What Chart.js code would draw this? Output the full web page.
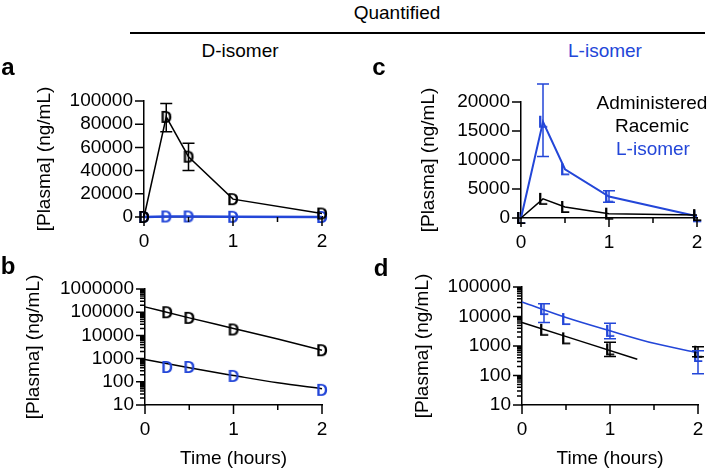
<!DOCTYPE html>
<html>
<head>
<meta charset="utf-8">
<script src="https://cdn.jsdelivr.net/npm/chart.js@4.4.0/dist/chart.umd.min.js"></script>
<style>
  body { margin: 0; background: #fff; }
  #fig { position: relative; width: 710px; height: 471px; overflow: hidden;
         font-family: "Liberation Sans", Arial, sans-serif; color: #000; }
  #fig canvas { position: absolute; }
  .txt { position: absolute; transform: translate(-50%, -50%); font-size: 19px; white-space: nowrap; }
  .tag { position: absolute; transform: translate(-50%, -50%); font-size: 24px; font-weight: bold; }
  .blue { color: #2346d8; }
  #rule { position: absolute; left: 130px; width: 575px; top: 32px; height: 2px; background: #000; }
</style>
</head>
<body>
<div id="fig">
  <canvas id="chartA" width="345" height="170" style="left:0;top:80px"></canvas>
  <canvas id="chartB" width="345" height="216" style="left:0;top:255px"></canvas>
  <canvas id="chartC" width="350" height="170" style="left:360px;top:80px"></canvas>
  <canvas id="chartD" width="350" height="216" style="left:360px;top:255px"></canvas>

  <div class="txt" style="left:397px;top:13px">Quantified</div>
  <div id="rule"></div>
  <div class="txt" style="left:240px;top:51px">D-isomer</div>
  <div class="txt blue" style="left:605px;top:51px">L-isomer</div>

  <div class="tag" style="left:8px;top:67px">a</div>
  <div class="tag" style="left:8px;top:266px">b</div>
  <div class="tag" style="left:379px;top:67px">c</div>
  <div class="tag" style="left:381px;top:268px">d</div>

  <div class="txt" style="left:652px;top:103px">Administered</div>
  <div class="txt" style="left:652px;top:126px">Racemic</div>
  <div class="txt blue" style="left:653px;top:149px">L-isomer</div>
</div>
<script>
const BLACK = '#000000';
const BLUE = '#2346d8';

// sampling times (hours)
const times = [0, 0.25, 0.5, 1, 2];
const logTimes = [0.25, 0.5, 1, 2];
const timeTicks = [0, 1, 2];
const timeMinor = [0.5, 1.5];

// a: D-isomer quantified, linear axis
const aRacemic = [0, 86300, 52000, 15400, 3000];
const aRacemicLo = [null, 73400, 40000, null, null];
const aRacemicHi = [null, 97800, 63500, null, null];
const aLIsomer = [0, 435, 435, 180, 45];
const aTicks = [0, 20000, 40000, 60000, 80000, 100000];

// b: D-isomer quantified, log axis + fits
const bRacemic = [100000, 57000, 18000, 2300];
const bLIsomer = [435, 435, 180, 45];
const bFitTimes = [0, 0.5, 1, 1.5, 2];
const bFitRacemic = [170000, 57000, 20000, 6950, 2280];
const bFitLIsomer = [915, 400, 187, 90, 50];
const bTicks = [10, 100, 1000, 10000, 100000, 1000000];

// c: L-isomer quantified, linear axis
const cRacemic = [0, 3300, 1900, 750, 500];
const cLIsomer = [0, 16600, 8400, 3700, 300];
const cLIsomerLo = [null, 10600, null, 2700, null];
const cLIsomerHi = [null, 23100, null, 4700, null];
const cTicks = [0, 5000, 10000, 15000, 20000];

// d: L-isomer quantified, log axis + fits
const dRacemic = [3540, 1820, 770, 640];
const dRacemicLo = [null, null, 440, 430];
const dRacemicHi = [null, null, 1350, 950];
const dLIsomer = [17800, 8200, 3260, 460];
const dLIsomerLo = [6300, null, 1750, 115];
const dLIsomerHi = [26900, null, 5900, 690];
const dFitTimes = [0, 0.5, 1, 1.5, 2];
const dFitLIsomer = [31000, 9250, 3270, 1230, 590];
const dFitRacemicTimes = [0, 1.31];
const dFitRacemic = [6270, 355];
const dTicks = [10, 100, 1000, 10000, 100000];

const FONT = '"Liberation Sans", Arial, sans-serif';

function pts(xs, ys) {
    return xs.map((x, i) => ({ x: x, y: ys[i] }));
}

// letter used as the point marker (D or L)
function letterMarker(ch, color) {
    const c = document.createElement('canvas');
    c.width = 18;
    c.height = 18;
    const g = c.getContext('2d');
    g.font = 'bold 16px ' + FONT;
    g.fillStyle = color;
    g.textAlign = 'center';
    g.textBaseline = 'alphabetic';
    g.fillText(ch, 9, 9 + 5.7);
    return c;
}

function logMinor(ticks) {
    const out = [];
    ticks.slice(0, -1).forEach(d => {
        for (let k = 2; k < 10; k++) out.push(d * k);
    });
    return out;
}

// Prism-style tick marks drawn outside the axes
const axisTicks = {
    id: 'axisTicks',
    afterDraw(chart, args, opts) {
        const ctx = chart.ctx;
        const xs = chart.scales.x, ys = chart.scales.y;
        const area = chart.chartArea;
        ctx.save();
        ctx.strokeStyle = '#000';
        ctx.lineWidth = 1.5;
        ctx.beginPath();
        const xMark = (v, len) => {
            const px = xs.getPixelForValue(v);
            ctx.moveTo(px, area.bottom);
            ctx.lineTo(px, area.bottom + len);
        };
        const yMark = (v, len) => {
            const py = ys.getPixelForValue(v);
            ctx.moveTo(area.left, py);
            ctx.lineTo(area.left - len, py);
        };
        xs.ticks.forEach(t => xMark(t.value, 9));
        (opts.xMinor || []).forEach(v => xMark(v, 5));
        ys.ticks.forEach(t => yMark(t.value, 9));
        (opts.yMinor || []).forEach(v => yMark(v, 5));
        ctx.stroke();
        ctx.restore();
    }
};

// vertical error bars with caps
const errorBars = {
    id: 'errorBars',
    afterDatasetsDraw(chart) {
        const ctx = chart.ctx;
        const ys = chart.scales.y;
        chart.data.datasets.forEach((ds, i) => {
            if (!ds.errLo) return;
            const meta = chart.getDatasetMeta(i);
            ctx.save();
            ctx.strokeStyle = ds.borderColor;
            ctx.lineWidth = 1.5;
            ctx.beginPath();
            ds.errLo.forEach((lo, j) => {
                if (lo == null) return;
                const x = meta.data[j].x;
                const y1 = ys.getPixelForValue(lo);
                const y2 = ys.getPixelForValue(ds.errHi[j]);
                ctx.moveTo(x, y1); ctx.lineTo(x, y2);
                ctx.moveTo(x - 6, y1); ctx.lineTo(x + 6, y1);
                ctx.moveTo(x - 6, y2); ctx.lineTo(x + 6, y2);
            });
            ctx.stroke();
            ctx.restore();
        });
    }
};

function series(xs, ys, color, letter, extra) {
    return Object.assign({
        data: pts(xs, ys),
        borderColor: color,
        backgroundColor: color,
        pointStyle: letterMarker(letter, color),
        pointRadius: 8,
        borderWidth: 1.5,
        clip: false
    }, extra || {});
}

function fit(xs, ys, color) {
    return {
        data: pts(xs, ys),
        borderColor: color,
        borderWidth: 1.5,
        pointRadius: 0,
        cubicInterpolationMode: 'monotone',
        clip: false
    };
}

function makePanel(id, p) {
    const tickFont = { family: FONT, size: 19 };
    return new Chart(document.getElementById(id), {
        type: 'line',
        data: { datasets: p.datasets },
        options: {
            responsive: false,
            animation: false,
            events: [],
            layout: { padding: { top: p.top, right: p.right, bottom: 0, left: 0 } },
            plugins: {
                legend: { display: false },
                tooltip: { enabled: false },
                axisTicks: { xMinor: timeMinor, yMinor: p.yMinor || [] }
            },
            scales: {
                x: {
                    type: 'linear',
                    min: 0,
                    max: 2,
                    afterBuildTicks: s => { s.ticks = timeTicks.map(v => ({ value: v })); },
                    afterFit: s => { s.height = p.xHeight; },
                    grid: { display: false, drawTicks: true, tickLength: 9 },
                    border: { display: true, color: '#000', width: 1.5 },
                    ticks: { color: '#000', font: tickFont, padding: 4, autoSkip: false, maxRotation: 0 },
                    title: {
                        display: !!p.xTitle,
                        text: 'Time (hours)',
                        color: '#000',
                        font: tickFont,
                        padding: { top: 0, bottom: 1 }
                    }
                },
                y: {
                    type: p.yType,
                    min: p.yTicks[0],
                    max: p.yTicks[p.yTicks.length - 1],
                    afterBuildTicks: s => { s.ticks = p.yTicks.map(v => ({ value: v })); },
                    afterFit: s => { s.width = p.left; },
                    grid: { display: false, drawTicks: true, tickLength: 9 },
                    border: { display: true, color: '#000', width: 1.5 },
                    ticks: { color: '#000', font: tickFont, padding: 2, autoSkip: false, callback: v => String(v) },
                    title: {
                        display: true,
                        text: '[Plasma] (ng/mL)',
                        color: '#000',
                        font: tickFont,
                        padding: { top: p.yTitlePad, bottom: 0 }
                    }
                }
            }
        },
        plugins: [axisTicks, errorBars]
    });
}

makePanel('chartA', {
    left: 144, right: 23, top: 21, xHeight: 33, yTitlePad: 33.6,
    yType: 'linear', yTicks: aTicks,
    datasets: [
        series(times, aRacemic, BLACK, 'D', { errLo: aRacemicLo, errHi: aRacemicHi }),
        series(times, aLIsomer, BLUE, 'D', { borderWidth: 2.5 })
    ]
});

makePanel('chartB', {
    left: 145, right: 23, top: 34, xHeight: 66, yTitlePad: 22.6, xTitle: true,
    yType: 'logarithmic', yTicks: bTicks, yMinor: logMinor(bTicks),
    datasets: [
        series(logTimes, bRacemic, BLACK, 'D', { showLine: false }),
        series(logTimes, bLIsomer, BLUE, 'D', { showLine: false }),
        fit(bFitTimes, bFitRacemic, BLACK),
        fit(bFitTimes, bFitLIsomer, BLACK)
    ]
});

makePanel('chartC', {
    left: 161, right: 13, top: 22, xHeight: 32, yTitlePad: 57.6,
    yType: 'linear', yTicks: cTicks,
    datasets: [
        series(times, cRacemic, BLACK, 'L'),
        series(times, cLIsomer, BLUE, 'L', { borderWidth: 2, errLo: cLIsomerLo, errHi: cLIsomerHi })
    ]
});

makePanel('chartD', {
    left: 162, right: 12, top: 32, xHeight: 66, yTitlePad: 51.6, xTitle: true,
    yType: 'logarithmic', yTicks: dTicks, yMinor: logMinor(dTicks),
    datasets: [
        series(logTimes, dRacemic, BLACK, 'L', { showLine: false, errLo: dRacemicLo, errHi: dRacemicHi }),
        series(logTimes, dLIsomer, BLUE, 'L', { showLine: false, errLo: dLIsomerLo, errHi: dLIsomerHi }),
        fit(dFitRacemicTimes, dFitRacemic, BLACK),
        fit(dFitTimes, dFitLIsomer, BLUE)
    ]
});
</script>
</body>
</html>
